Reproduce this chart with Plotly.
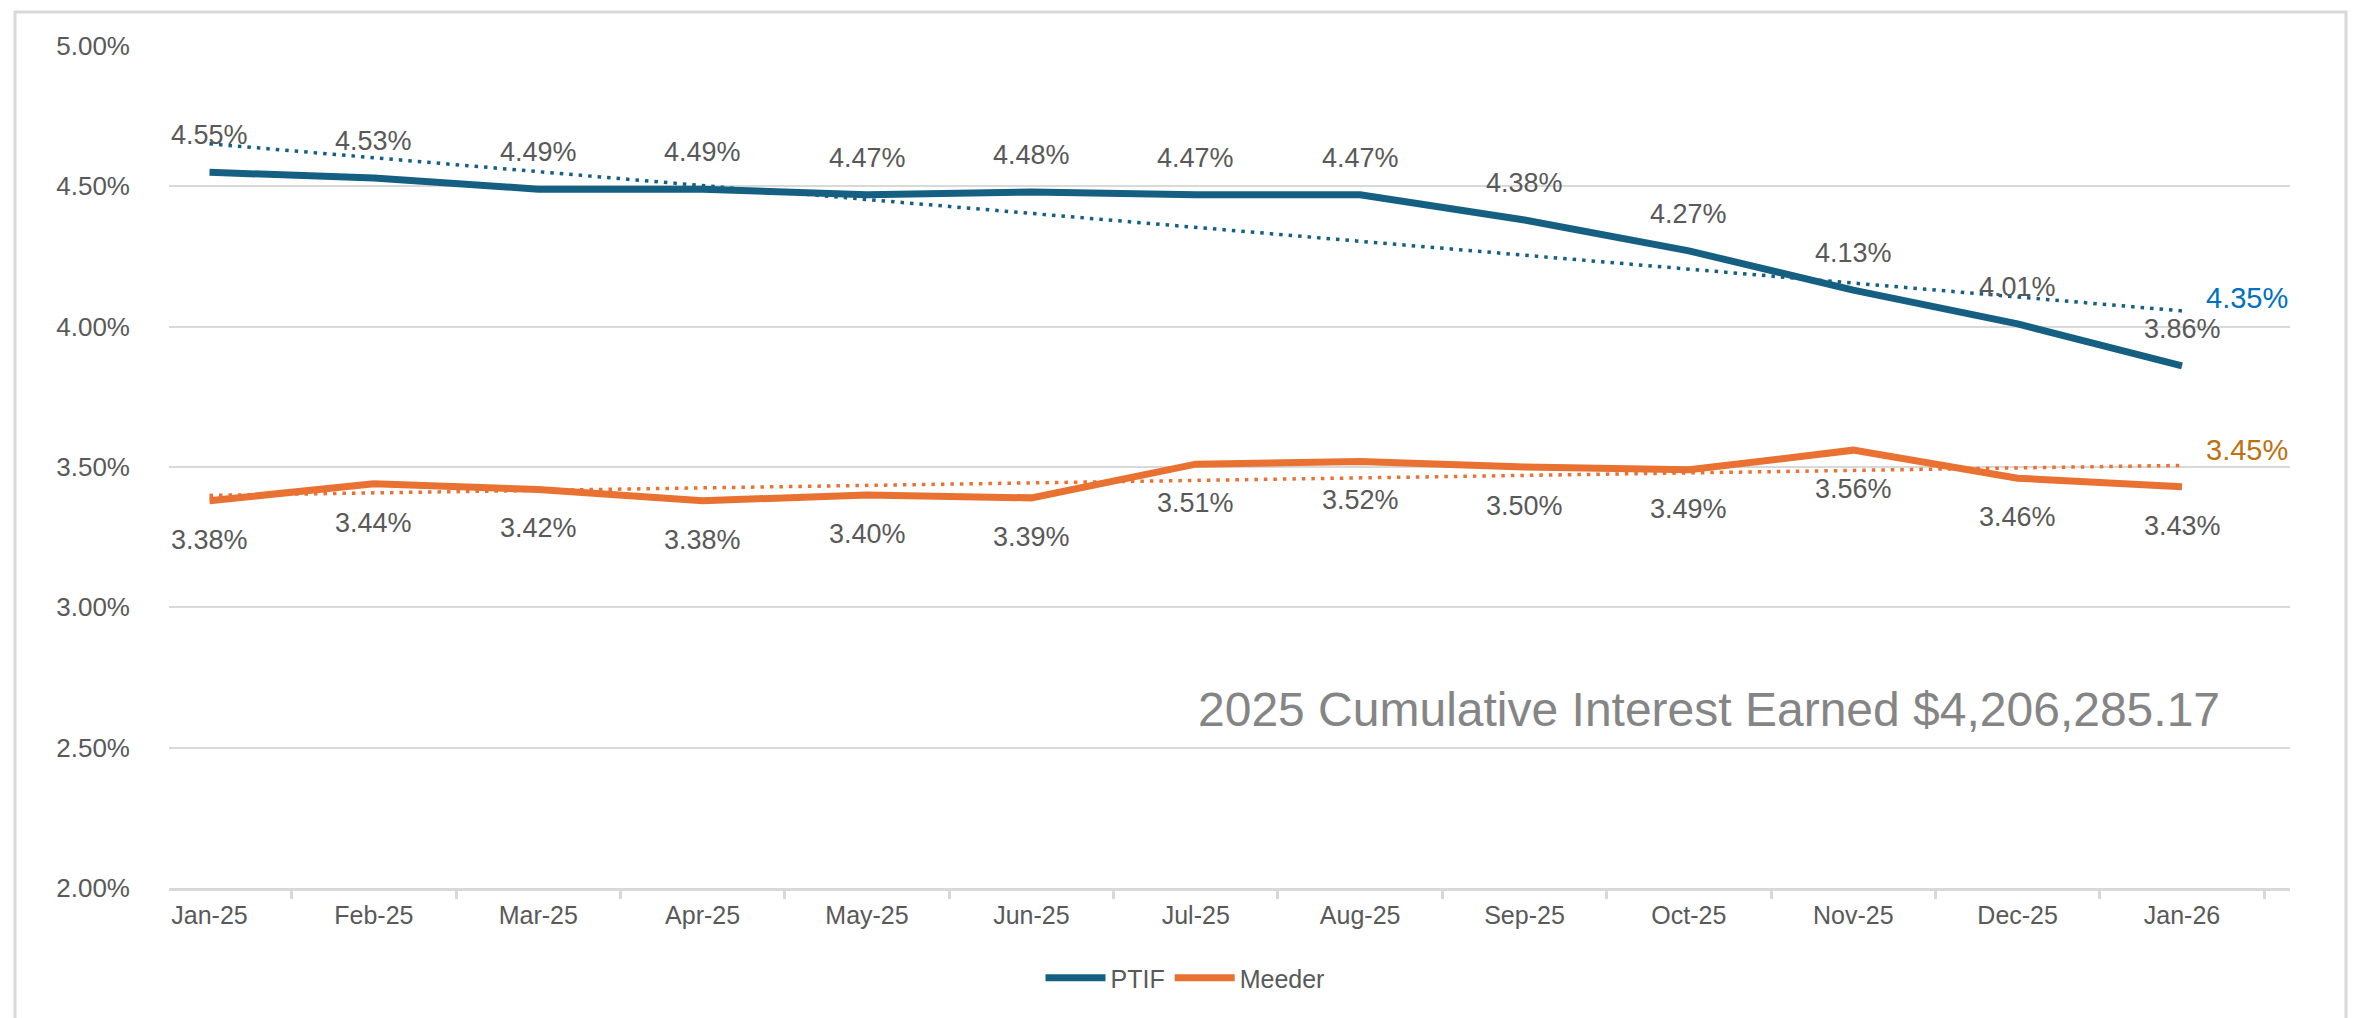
import numpy as np
import plotly.graph_objects as go

months = ["Jan-25", "Feb-25", "Mar-25", "Apr-25", "May-25", "Jun-25", "Jul-25",
          "Aug-25", "Sep-25", "Oct-25", "Nov-25", "Dec-25", "Jan-26"]
ptif = [4.55, 4.53, 4.49, 4.49, 4.47, 4.48, 4.47, 4.47, 4.38, 4.27, 4.13, 4.01, 3.86]
meeder = [3.38, 3.44, 3.42, 3.38, 3.40, 3.39, 3.51, 3.52, 3.50, 3.49, 3.56, 3.46, 3.43]
y_ticks = [2.0, 2.5, 3.0, 3.5, 4.0, 4.5, 5.0]
note = "2025 Cumulative Interest Earned $4,206,285.17"

_BLUE, _ORANGE = "#156082", "#E97132"
_AVG_BLUE, _AVG_ORANGE = "#0070C0", "#C0700F"
_GRID, _TXT = "#d9d9d9", "#595959"
_FONT = "Liberation Sans, Arial"
W, H = 2356, 1018
L, R, T, B = 161, 74, 38, 138


def trend(vals):
    # excel-style linear trendline
    x = np.arange(len(vals))
    k, b = np.polyfit(x, vals, 1)
    return list(k * x + b)


fig = go.Figure()
for name, vals, col in [("PTIF", ptif, _BLUE), ("Meeder", meeder, _ORANGE)]:
    fig.add_scatter(x=months, y=trend(vals), mode="lines", showlegend=False, hoverinfo="skip",
                    line=dict(color=col, width=3.5, dash="3.5px,6px"))
for name, vals, col in [("PTIF", ptif, _BLUE), ("Meeder", meeder, _ORANGE)]:
    fig.add_scatter(x=months, y=vals, mode="lines", name=name,
                    line=dict(color=col, width=7))

# data labels: PTIF above, Meeder below
for vals, shift in [(ptif, 37), (meeder, -39)]:
    for m, v in zip(months, vals):
        fig.add_annotation(x=m, y=v, text=f"{v:.2f}%", showarrow=False, yshift=shift,
                           font=dict(family=_FONT, size=27, color=_TXT))

# averages at the end of the trendlines
for vals, col, ys in [(ptif, _AVG_BLUE, 13), (meeder, _AVG_ORANGE, 15)]:
    fig.add_annotation(x=months[-1], y=trend(vals)[-1], text=f"{np.mean(vals):.2f}%",
                       showarrow=False, xanchor="left", xshift=22, yshift=ys,
                       font=dict(family=_FONT, size=29, color=col))

pw, ph = W - L - R, H - T - B
fig.add_annotation(xref="paper", yref="paper", x=(1188 - L) / pw, y=(880 - 701) / ph,
                   xanchor="left", yanchor="middle", text=note, showarrow=False,
                   font=dict(family=_FONT, size=48, color="#858585"))

fig.add_shape(type="rect", xref="paper", yref="paper",
              x0=(7 - L) / pw, x1=(2338 - L) / pw, y0=(H - B - 1040) / ph, y1=(H - B - 4) / ph,
              line=dict(color=_GRID, width=3), layer="below")

fig.update_layout(
    width=W, height=H, margin=dict(l=L, r=R, t=T, b=B),
    plot_bgcolor="white", paper_bgcolor="white", hovermode=False,
    font=dict(family=_FONT, color=_TXT),
    legend=dict(orientation="h", x=(1177 - L) / pw, xanchor="center", y=(880 - 970) / ph,
                yanchor="middle", font=dict(size=25, color=_TXT), itemwidth=60),
    xaxis=dict(type="category", showgrid=False, showline=True, linecolor=_GRID, linewidth=3,
               ticks="outside", tickson="boundaries", ticklen=8, tickwidth=3, tickcolor=_GRID,
               tickfont=dict(size=25, color=_TXT), ticklabelstandoff=3),
    yaxis=dict(range=[2, 5], tickvals=y_ticks, ticktext=[f"{v:.2f}%" for v in y_ticks],
               showgrid=True, gridcolor=_GRID, gridwidth=2, zeroline=False, showline=False,
               tickfont=dict(size=26, color=_TXT), ticklabelstandoff=38),
)

fig.write_html("out.html", config={"displayModeBar": False})
